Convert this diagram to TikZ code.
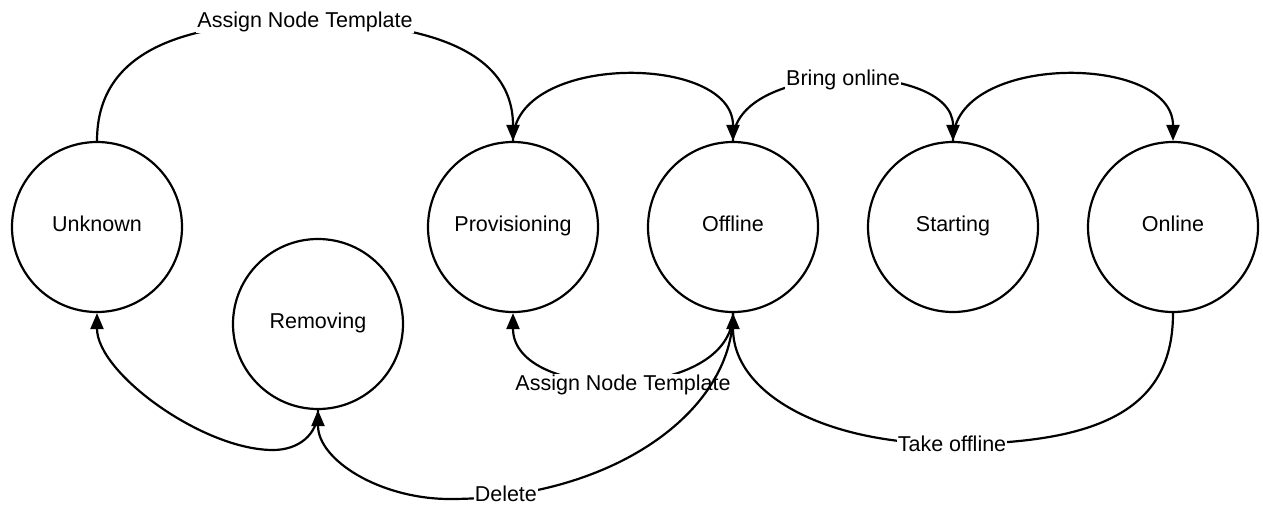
\documentclass[tikz,border=0pt]{standalone}
\usepackage{fontspec}
\setmainfont[Ligatures=NoCommon]{Liberation Sans}
\usetikzlibrary{arrows.meta}
\begin{document}
\begin{tikzpicture}[x=1pt,y=-1pt,
  state/.style={draw, circle, line width=2.2pt, minimum size=170pt, inner sep=0pt,
    text height=15.7pt, text depth=6.3pt,
    font=\fontsize{21.5}{26}\selectfont},
  edge/.style={line width=2.2pt, -{Triangle[length=16pt,width=13pt]}},
  lbl/.style={fill=white, inner sep=1pt, font=\fontsize{21.5}{26}\selectfont}]
\useasboundingbox (0,0) rectangle (1263,504);

\node[state] (unk)   at (97,227)   {Unknown};
\node[state] (prov)  at (513,227)  {Provisioning};
\node[state] (off)   at (733,227)  {Offline};
\node[state] (start) at (953,227)  {Starting};
\node[state] (onl)   at (1173,227) {Online};
\node[state] (rem)   at (318,324)  {Removing};

\coordinate (a1) at (305,22);
\coordinate (m1) at (450,499);
\coordinate (m2) at (273,450);
\coordinate (m3) at (952,444);

% top arcs
\draw[edge] (prov.north) .. controls +(0,-88) and +(0,-88) .. (off.north);
\draw[edge] (off.north) .. controls +(0,-81) and +(0,-81) .. (start.north) node[lbl,pos=0.5] {Bring online};
\draw[edge] (start.north) .. controls +(0,-88) and +(0,-88) .. (onl.north);
\draw[edge] (unk.north) .. controls +(0,-90) and +(-122,0) .. (a1) node[lbl] {Assign Node Template}
  .. controls +(122,0) and +(0,-90) .. (prov.north);

% bottom arcs
\draw[edge] (off.south) .. controls +(0,90) and +(0,90) .. (prov.south) node[lbl,pos=0.5,yshift=-4pt] {Assign Node Template};
\draw[edge] (off.south) .. controls +(0,100) and +(160,0) .. (m1) node[lbl,pos=0.88,yshift=2pt] {Delete}
  .. controls +(-70,0) and +(0,50) .. (rem.south);
\draw[edge] (rem.south) .. controls +(0,25) and +(25,0) .. (m2)
  .. controls +(-70,0) and +(0,60) .. (unk.south);
\draw[edge] (onl.south) .. controls +(0,92) and +(155,0) .. (m3) node[lbl] {Take offline}
  .. controls +(-131,0) and +(0,79) .. (off.south);
\end{tikzpicture}
\end{document}
